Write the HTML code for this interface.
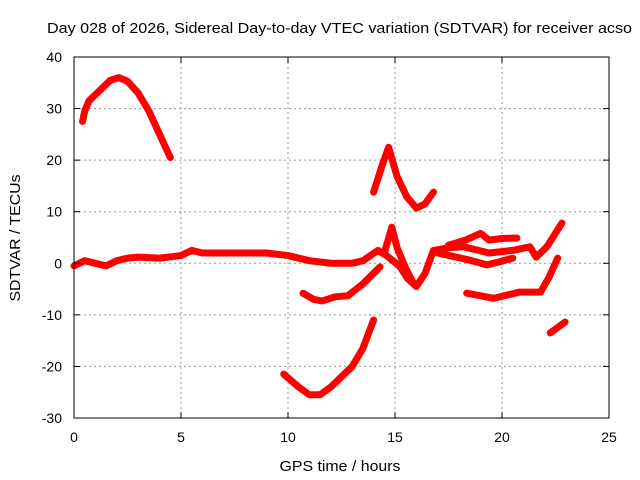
<!DOCTYPE html>
<html><head><meta charset="utf-8"><style>
body{margin:0;background:#fff;}
svg{display:block;font-family:"Liberation Sans",sans-serif;}
</style></head><body>
<svg id="c" width="640" height="480">
<text x="47" y="33" font-size="15" textLength="585" lengthAdjust="spacingAndGlyphs">Day 028 of 2026, Sidereal Day-to-day VTEC variation (SDTVAR) for receiver acso</text>
<text x="340" y="471" font-size="15" text-anchor="middle" textLength="121" lengthAdjust="spacingAndGlyphs">GPS time / hours</text>
<text transform="translate(20,238) rotate(-90)" font-size="15" text-anchor="middle" textLength="127" lengthAdjust="spacingAndGlyphs">SDTVAR / TECUs</text>
<g id="grid"></g><g id="marks"></g>
<rect x="74" y="57" width="535" height="361" fill="none" stroke="#000"/>
</svg>
<script>
const xTicks=[0,5,10,15,20,25];
const yTicks=[-30,-20,-10,0,10,20,30,40];
const seriesArc=[[0.4,27.5],[0.5,29.5],[0.7,31.5],[1.2,33.5],[1.7,35.5],[2.1,36],[2.5,35.3],[3,33],[3.5,29.5],[4,25],[4.5,20.5]];
const seriesMain=[[0,-0.5],[0.5,0.5],[1,0],[1.5,-0.5],[2,0.5],[2.5,1],[3,1.2],[4,1],[5,1.5],[5.5,2.5],[6,2],[7,2],[8,2],[9,2],[10,1.5],[11,0.5],[12,0],[13,0],[13.5,0.5],[14.2,2.5],[14.6,1.5],[15.2,-0.5],[15.6,-3],[16,-4.5],[16.4,-2],[16.8,2.5],[17.5,3],[18.2,3.2],[19.4,2],[20.5,2.5],[21.3,3.2],[21.6,1.2],[22.1,3.2],[22.8,7.8]];
const seriesSpike=[[14.5,2],[14.85,7],[15.1,3],[15.5,-1],[15.85,-3.8]];
const seriesMid=[[10.7,-5.8],[11.2,-7],[11.6,-7.3],[12.2,-6.5],[12.8,-6.3],[13.5,-4],[14.3,-0.7]];
const seriesDip=[[9.8,-21.5],[10.5,-24],[11,-25.5],[11.5,-25.5],[12,-24],[13,-20],[13.5,-16.5],[14,-11]];
const seriesUpper=[[14,13.8],[14.4,19],[14.7,22.5],[15.1,16.8],[15.55,12.9],[16,10.7],[16.4,11.5],[16.8,13.8]];
const seriesBranchHi=[[17.5,3.5],[18.3,4.5],[19,5.8],[19.4,4.5],[20,4.8],[20.7,4.9]];
const seriesBranchLo=[[17,2],[18.5,0.6],[19.3,-0.3],[19.9,0.3],[20.5,1]];
const seriesRight=[[18.35,-5.8],[19,-6.3],[19.6,-6.8],[20.8,-5.6],[21.8,-5.6],[22.2,-2.7],[22.6,1]];
const seriesTiny=[[22.25,-13.5],[22.95,-11.4]];
const X=h=>74+h*535/25, Y=v=>57+(40-v)*361/70;
const NS="http://www.w3.org/2000/svg";
const svg=document.getElementById('c'),grid=document.getElementById('grid'),marks=document.getElementById('marks');
function mk(t,a,p){const e=document.createElementNS(NS,t);for(const k in a)e.setAttribute(k,a[k]);p.appendChild(e);return e;}
xTicks.forEach(t=>{
 if(t>0&&t<25){const l=mk('line',{x1:X(t),x2:X(t),y1:57,y2:418,stroke:'#999','stroke-dasharray':'2,3'},grid);
 
 }
 const tx=mk('text',{x:X(t),y:442,'font-size':14,'text-anchor':'middle'},svg);tx.textContent=t;
 
 
 mk('line',{x1:X(t),x2:X(t),y1:418,y2:412,stroke:'#000'},svg);mk('line',{x1:X(t),x2:X(t),y1:57,y2:63,stroke:'#000'},svg);
});
yTicks.forEach(t=>{
 if(t>-30&&t<40){const l=mk('line',{x1:74,x2:609,y1:Y(t),y2:Y(t),stroke:'#999','stroke-dasharray':'2,3'},grid);
 
 }
 const tx=mk('text',{x:62,y:Y(t)+5,'font-size':14,'text-anchor':'end'},svg);tx.textContent=t;
 
 
 mk('line',{x1:74,x2:80,y1:Y(t),y2:Y(t),stroke:'#000'},svg);mk('line',{x1:609,x2:603,y1:Y(t),y2:Y(t),stroke:'#000'},svg);
});
function draw(s,name,w){const p=mk('polyline',{points:s.map(d=>X(d[0])+','+Y(d[1])).join(' '),fill:'none',stroke:'#f00','stroke-width':w||7,'stroke-linejoin':'round','stroke-linecap':'round'},marks);
 
 }
draw(seriesArc,'series-arc');draw(seriesMain,'series-main');draw(seriesSpike,'series-spike');
draw(seriesMid,'series-mid');draw(seriesDip,'series-dip');draw(seriesUpper,'series-upper');
draw(seriesBranchHi,'series-branch-hi');draw(seriesBranchLo,'series-branch-lo');draw(seriesRight,'series-right');draw(seriesTiny,'series-tiny');
</script>
</body></html>
